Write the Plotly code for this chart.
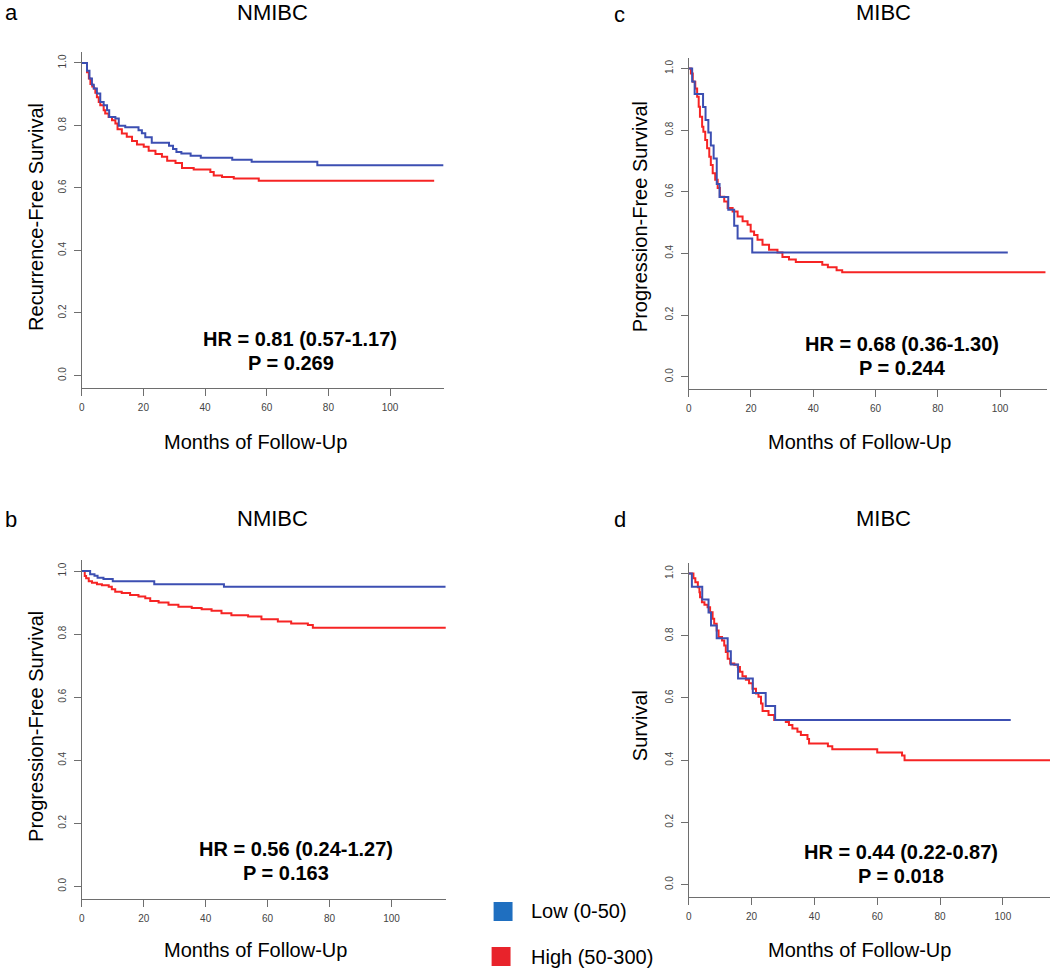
import plotly.graph_objects as go

W, H = 1050, 969

# ---------------- data ----------------
# Panel a: NMIBC, Recurrence-Free Survival
a_low_t = [0, 1.7, 2.5, 3.3, 3.9, 4.9, 6.0, 7.1, 8.2, 8.9, 10.9, 12.0, 14.1, 18.4, 19.5, 20.6, 22.7,
           28.3, 29.6, 30.7, 32.3, 35.3, 38.6, 48.8, 55.1, 76.4, 117.3]
a_low_s = [1.0, 0.975, 0.95, 0.93, 0.918, 0.902, 0.875, 0.865, 0.849, 0.827, 0.822, 0.799, 0.794, 0.785,
           0.775, 0.762, 0.745, 0.735, 0.725, 0.715, 0.71, 0.703, 0.697, 0.69, 0.684, 0.673, 0.673]
a_high_t = [0, 1.7, 2.3, 2.8, 3.4, 3.9, 4.4, 4.9, 5.5, 6.0, 7.1, 7.6, 8.7, 9.8, 10.9, 11.6, 13.0, 14.6,
            16.3, 17.9, 20.1, 21.7, 23.9, 26.0, 27.7, 30.4, 32.5, 36.3, 41.7, 42.8, 45.5, 49.3, 57.4, 114.3]
a_high_s = [1.0, 0.97, 0.95, 0.933, 0.925, 0.918, 0.905, 0.89, 0.875, 0.865, 0.849, 0.838, 0.827, 0.817,
            0.806, 0.788, 0.774, 0.764, 0.75, 0.739, 0.732, 0.719, 0.709, 0.70, 0.687, 0.68, 0.664, 0.659,
            0.651, 0.64, 0.635, 0.63, 0.623, 0.623]

# Panel b: NMIBC, Progression-Free Survival
b_low_t = [0, 2.7, 4.1, 5.1, 7.0, 10.0, 23.4, 45.9, 117.5]
b_low_s = [1.0, 0.99, 0.985, 0.979, 0.975, 0.968, 0.958, 0.95, 0.95]
b_high_t = [0, 0.96, 1.4, 2.25, 3.3, 4.9, 6.5, 8.7, 9.7, 10.8, 12.9, 15.6, 18.3, 20.5, 22.1, 24.8, 28.0,
            31.2, 35.5, 38.7, 41.9, 45.1, 48.3, 53.7, 58.0, 63.3, 67.6, 73.0, 74.6, 117.7]
b_high_s = [1.0, 0.984, 0.977, 0.968, 0.963, 0.958, 0.955, 0.95, 0.942, 0.934, 0.93, 0.924, 0.919, 0.914,
            0.905, 0.9, 0.893, 0.887, 0.883, 0.879, 0.874, 0.866, 0.86, 0.856, 0.847, 0.84, 0.834, 0.829,
            0.82, 0.82]

# Panel c: MIBC, Progression-Free Survival
c_low_t = [0, 1.1, 1.9, 4.6, 5.4, 6.3, 7.1, 8.0, 9.0, 9.9, 12.7, 14.6, 15.7, 20.4, 102.5]
c_low_s = [1.0, 0.958, 0.917, 0.875, 0.833, 0.792, 0.75, 0.708, 0.625, 0.583, 0.542, 0.49, 0.448,
           0.403, 0.403]
c_high_t = [0, 0.7, 1.3, 2.1, 2.7, 3.2, 3.6, 4.3, 4.7, 5.3, 5.9, 6.6, 7.1, 7.7, 8.5, 9.3, 10.0, 11.4,
            12.5, 14.1, 15.7, 17.3, 18.9, 19.9, 21.0, 22.1, 23.7, 25.8, 28.5, 30.1, 32.2, 34.4, 42.9,
            44.7, 47.5, 49.3, 114.6]
c_high_s = [1.0, 0.984, 0.957, 0.935, 0.908, 0.876, 0.843, 0.811, 0.795, 0.768, 0.741, 0.714, 0.687,
            0.66, 0.639, 0.612, 0.584, 0.568, 0.547, 0.536, 0.52, 0.504, 0.493, 0.471, 0.46, 0.444,
            0.428, 0.412, 0.403, 0.388, 0.38, 0.372, 0.363, 0.355, 0.345, 0.339, 0.339]

# Panel d: MIBC, Survival
d_low_t = [0, 1.0, 4.3, 6.3, 7.1, 8.9, 12.4, 13.4, 15.7, 20.4, 24.5, 27.5, 102.5]
d_low_s = [1.0, 0.958, 0.917, 0.875, 0.833, 0.792, 0.75, 0.708, 0.663, 0.616, 0.574, 0.529, 0.529]
d_high_t = [0, 1.5, 2.1, 2.9, 3.4, 3.6, 4.2, 5.0, 6.0, 6.8, 7.6, 8.1, 8.9, 9.5, 10.6, 11.3, 11.8,
            12.4, 13.2, 14.5, 15.6, 16.3, 17.1, 18.2, 19.2, 20.3, 21.4, 22.2, 23.0, 23.5, 25.4, 27.2,
            30.9, 31.9, 33.0, 34.6, 35.7, 37.8, 38.3, 44.3, 45.7, 60.0, 67.9, 68.7, 115.5]
d_high_s = [1.0, 0.985, 0.972, 0.956, 0.94, 0.924, 0.908, 0.9, 0.892, 0.876, 0.855, 0.839, 0.817,
            0.796, 0.785, 0.769, 0.748, 0.726, 0.711, 0.707, 0.70, 0.684, 0.67, 0.659, 0.647, 0.63,
            0.614, 0.604, 0.582, 0.558, 0.545, 0.529, 0.523, 0.513, 0.502, 0.491, 0.481, 0.468,
            0.454, 0.445, 0.435, 0.425, 0.415, 0.40, 0.40]

y_ticks = [0.0, 0.2, 0.4, 0.6, 0.8, 1.0]
y_tick_labels = ["0.0", "0.2", "0.4", "0.6", "0.8", "1.0"]
x_ticks = [0, 20, 40, 60, 80, 100]

letters = ["a", "b", "c", "d"]
titles = ["NMIBC", "NMIBC", "MIBC", "MIBC"]
y_titles = ["Recurrence-Free Survival", "Progression-Free Survival",
            "Progression-Free Survival", "Survival"]
hr_texts = ["HR = 0.81 (0.57-1.17)", "HR = 0.56 (0.24-1.27)",
            "HR = 0.68 (0.36-1.30)", "HR = 0.44 (0.22-0.87)"]
p_texts = ["P = 0.269", "P = 0.163", "P = 0.244", "P = 0.018"]
x_title = "Months of Follow-Up"
legend_labels = ["Low (0-50)", "High (50-300)"]

# ---------------- styling ----------------
FONT = "Liberation Sans, Arial, Helvetica, sans-serif"
LOW_COL = "#3c4fb2"
HIGH_COL = "#f62424"
LEG_LOW = "#1f6fc0"
LEG_HIGH = "#e8232b"
AX_COL = "#6e6e6e"


def fx(px):
    return px / W


def fy(py):
    return 1 - py / H


# panel geometry in pixels: (left, right, top, bottom, xmax)
panels = {
    "a": dict(l=79, r=442, t=52, b=388, xmax=117.4),
    "b": dict(l=79, r=444, t=560, b=899, xmax=117.5),
    "c": dict(l=687.7, r=1046.7, t=57.7, b=389, xmax=115.0),
    "d": dict(l=687.7, r=1050, t=562.7, b=897, xmax=115.0),
}
series = {
    "a": (a_low_t, a_low_s, a_high_t, a_high_s),
    "b": (b_low_t, b_low_s, b_high_t, b_high_s),
    "c": (c_low_t, c_low_s, c_high_t, c_high_s),
    "d": (d_low_t, d_low_s, d_high_t, d_high_s),
}

fig = go.Figure()
layout = dict(
    width=W, height=H, autosize=False,
    margin=dict(l=0, r=0, t=0, b=0),
    paper_bgcolor="white", plot_bgcolor="white",
    showlegend=False, font=dict(family=FONT),
)

annotations = []
shapes = []

for i, key in enumerate(["a", "b", "c", "d"]):
    g = panels[key]
    n = "" if i == 0 else str(i + 1)
    xa, ya = "x" + n, "y" + n
    lt, ls, ht, hs = series[key]
    fig.add_trace(go.Scatter(x=ht, y=hs, mode="lines", line=dict(color=HIGH_COL, width=2, shape="hv"),
                             xaxis=xa, yaxis=ya, name=legend_labels[1]))
    fig.add_trace(go.Scatter(x=lt, y=ls, mode="lines", line=dict(color=LOW_COL, width=2, shape="hv"),
                             xaxis=xa, yaxis=ya, name=legend_labels[0]))
    layout["xaxis" + n] = dict(
        domain=[fx(g["l"]), fx(g["r"])], range=[0, g["xmax"]], anchor=ya,
        showgrid=False, zeroline=False, showline=True, linecolor=AX_COL, linewidth=1.3,
        ticks="outside", ticklen=7, tickwidth=1.2, tickcolor=AX_COL,
        tickvals=x_ticks, tickfont=dict(size=10, color="#444444", family=FONT),
        ticklabelstandoff=3,
    )
    layout["yaxis" + n] = dict(
        domain=[fy(g["b"]), fy(g["t"])], range=[-0.04, 1.035], anchor=xa,
        showgrid=False, zeroline=False, showline=True, linecolor=AX_COL, linewidth=1.3,
        ticks="outside", ticklen=7, tickwidth=1.2, tickcolor=AX_COL,
        tickvals=y_ticks, ticktext=y_tick_labels, tickangle=-90,
        tickfont=dict(size=10, color="#444444", family=FONT),
        ticklabelstandoff=4,
    )

# text positions (pixels)
letter_pos = {"a": (0, 13, "left"), "b": (0, 519, "left"), "c": (618, 14, "center"), "d": (619, 519, "center")}
title_pos = {"a": (270, 13), "b": (270, 518), "c": (883, 13), "d": (883, 518)}
ytitle_pos = {"a": (33, 217), "b": (33, 726), "c": (639, 217), "d": (639, 726)}
xtitle_pos = {"a": (253, 442), "b": (253, 950), "c": (859, 442), "d": (859, 950)}
hr_pos = {"a": (298, 339), "b": (294, 849), "c": (902, 344), "d": (901, 852)}
p_pos = {"a": (289, 363), "b": (284, 873), "c": (902, 368), "d": (901, 876)}

for i, key in enumerate(["a", "b", "c", "d"]):
    x, y, anc = letter_pos[key]
    annotations.append(dict(x=fx(x), y=fy(y), xref="paper", yref="paper", text=letters[i], showarrow=False,
                            xanchor=anc, yanchor="middle", font=dict(size=22, color="black", family=FONT)))
    x, y = title_pos[key]
    annotations.append(dict(x=fx(x), y=fy(y), xref="paper", yref="paper", text=titles[i], showarrow=False,
                            xanchor="center", yanchor="middle", font=dict(size=22, color="black", family=FONT)))
    x, y = ytitle_pos[key]
    annotations.append(dict(x=fx(x), y=fy(y), xref="paper", yref="paper", text=y_titles[i], showarrow=False,
                            textangle=-90, xanchor="center", yanchor="middle",
                            font=dict(size=20, color="black", family=FONT)))
    x, y = xtitle_pos[key]
    annotations.append(dict(x=fx(x), y=fy(y), xref="paper", yref="paper", text=x_title, showarrow=False,
                            xanchor="center", yanchor="middle", font=dict(size=20, color="black", family=FONT)))
    x, y = hr_pos[key]
    annotations.append(dict(x=fx(x), y=fy(y), xref="paper", yref="paper", text="<b>" + hr_texts[i] + "</b>",
                            showarrow=False, xanchor="center", yanchor="middle",
                            font=dict(size=20, color="black", family=FONT)))
    x, y = p_pos[key]
    annotations.append(dict(x=fx(x), y=fy(y), xref="paper", yref="paper", text="<b>" + p_texts[i] + "</b>",
                            showarrow=False, xanchor="center", yanchor="middle",
                            font=dict(size=20, color="black", family=FONT)))

# legend (squares + labels)
leg_items = [(LEG_LOW, (492, 902, 511, 921), 911), (LEG_HIGH, (490, 947, 509, 966), 957)]
for (col, (x0, y0, x1, y1), ty), lab in zip(leg_items, legend_labels):
    shapes.append(dict(type="rect", xref="paper", yref="paper", x0=fx(x0), x1=fx(x1), y0=fy(y1), y1=fy(y0),
                       fillcolor=col, line=dict(width=0)))
    annotations.append(dict(x=fx(528), y=fy(ty), xref="paper", yref="paper", text=lab, showarrow=False,
                            xanchor="left", yanchor="middle", font=dict(size=20, color="black", family=FONT)))

layout["annotations"] = annotations
layout["shapes"] = shapes
fig.update_layout(**layout)
fig.write_html(
    "out.html",
    config={"displayModeBar": False},
    post_script="document.body.style.margin='0';document.body.style.padding='0';"
                "document.body.style.overflow='hidden';",
)
